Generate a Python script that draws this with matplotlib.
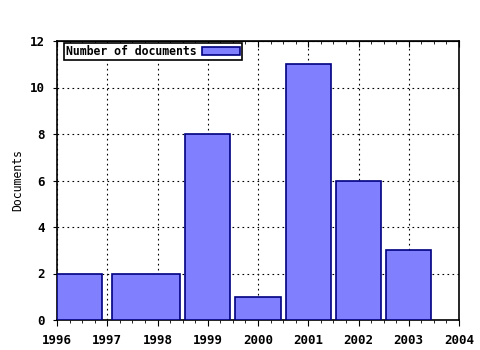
import matplotlib
matplotlib.use("Agg")
import matplotlib.pyplot as plt
from matplotlib.ticker import MultipleLocator

# Bars (left and right edges in years, heights)
bar_left = [1996.0, 1997.1, 1998.55, 1999.55, 2000.55, 2001.55, 2002.55]
bar_right = [1996.9, 1998.45, 1999.45, 2000.45, 2001.45, 2002.45, 2003.45]
documents = [2, 2, 8, 1, 11, 6, 3]
year_ticks = [1996, 1997, 1998, 1999, 2000, 2001, 2002, 2003, 2004]

plt.rcParams['font.family'] = 'DejaVu Sans Mono'
plt.rcParams['font.weight'] = 'bold'
plt.rcParams['font.size'] = 9

fig = plt.figure(figsize=(4.8, 3.5), dpi=100)
ax = fig.add_axes([57 / 480, 1 - 320 / 350, 402 / 480, 279 / 350])

widths = [r - l for l, r in zip(bar_left, bar_right)]
ax.bar(bar_left, documents, width=widths, align='edge', color='#8080ff',
       edgecolor='#000080', linewidth=1.2, label='Number of documents', zorder=3)

ax.set_xlim(1996, 2004)
ax.set_ylim(0, 12)
ax.set_xticks(year_ticks)
ax.set_xticklabels([str(y) for y in year_ticks])
ax.xaxis.set_minor_locator(MultipleLocator(0.25))
ax.yaxis.set_major_locator(MultipleLocator(2))
ax.tick_params(axis='x', which='both', direction='out', color='black', pad=6)
ax.tick_params(axis='x', which='major', length=4)
ax.tick_params(axis='x', which='minor', length=2)
ax.tick_params(axis='y', which='major', direction='out', length=3, pad=6)

# ticks along the top pointing into the plot
top = ax.secondary_xaxis('top')
top.set_xticks(year_ticks)
top.xaxis.set_minor_locator(MultipleLocator(0.25))
top.tick_params(which='both', direction='in', labeltop=False)
top.tick_params(which='major', length=4)
top.tick_params(which='minor', length=2)

ax.grid(True, which='major', linestyle=(0, (1.5, 3)), color='black', linewidth=0.8, zorder=0)
for s in ax.spines.values():
    s.set_linewidth(1.2)

ax.set_ylabel('Documents', labelpad=4, fontsize=8.3)

leg = ax.legend(loc='upper left', markerfirst=False, fancybox=False,
                framealpha=1, edgecolor='black', borderpad=0.15,
                handlelength=3.3, handleheight=0.6, handletextpad=0.5,
                borderaxespad=0.2, prop={'size': 8.3, 'weight': 'bold'},
                bbox_to_anchor=(0.012, 1.0))
leg.get_frame().set_linewidth(1.2)

fig.savefig('out.png', dpi=100)
